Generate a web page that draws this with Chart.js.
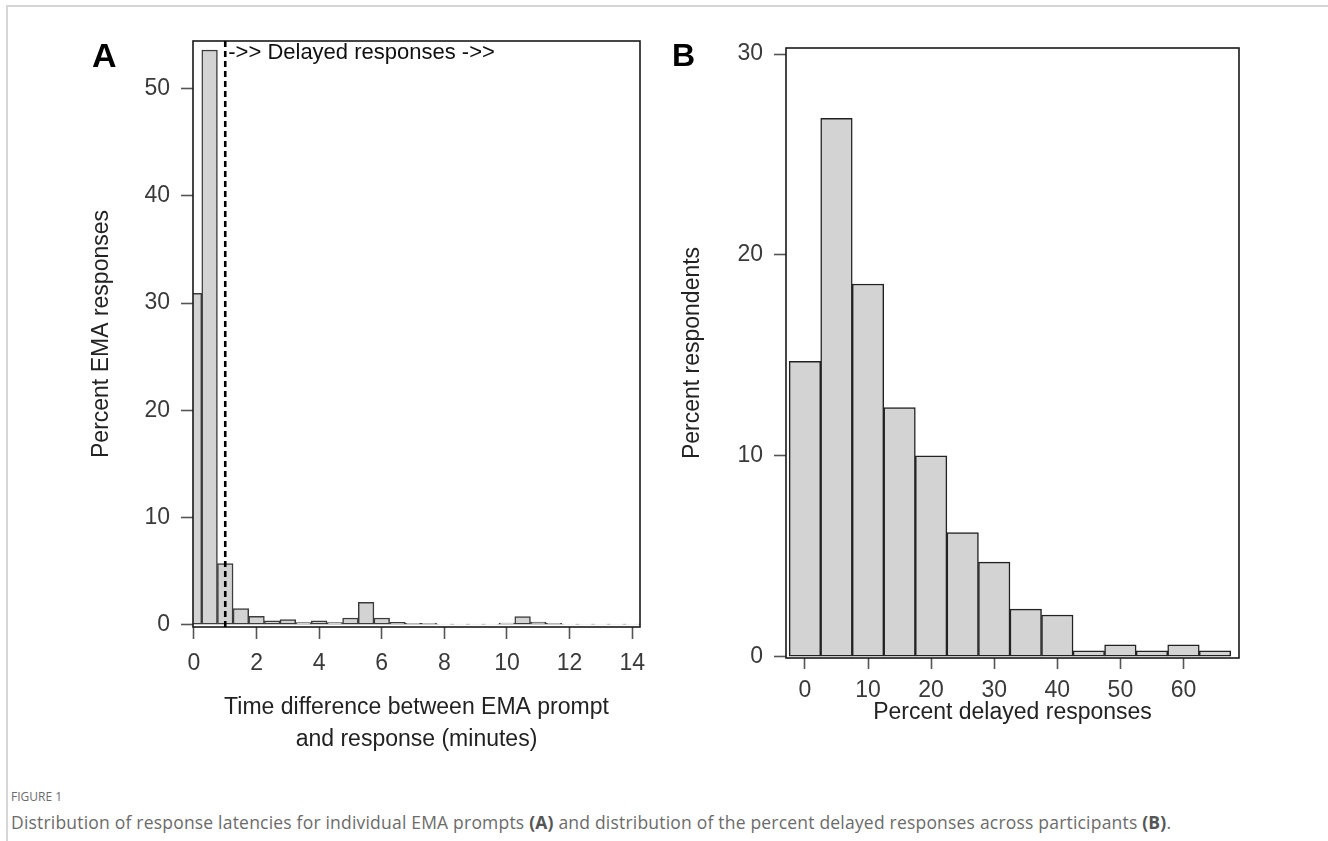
<!DOCTYPE html>
<html>
<head>
<meta charset="utf-8">
<script src="https://cdn.jsdelivr.net/npm/chart.js@4.4.1/dist/chart.umd.min.js"></script>
<style>
  html, body { margin: 0; padding: 0; background: #fff; width: 1328px; height: 841px; overflow: hidden; }
  #border { position: absolute; left: 6px; top: 5px; width: 1322px; height: 836px; border-top: 2px solid #d6d6d6; border-left: 2px solid #d6d6d6; box-sizing: border-box; }
  canvas { position: absolute; top: 0; }
  #cA { left: 0; }
  #cB { left: 664px; }
  .plabel { position: absolute; font-family: "Liberation Sans", Arial, sans-serif; font-weight: bold; color: #000; line-height: 1; }
  #fig { position: absolute; left: 11px; top: 788px; font-family: "Open Sans", sans-serif; font-size: 12px; color: #6b6b6b; }
  #cap { position: absolute; left: 11px; top: 811px; font-family: "Open Sans", sans-serif; font-size: 17.5px; letter-spacing: 0.2px; line-height: 22px; color: #6b6b6b; white-space: nowrap; }
  #cap b { color: #555; }
</style>
</head>
<body>
<div id="border"></div>
<canvas id="cA" width="664" height="760"></canvas>
<canvas id="cB" width="664" height="760"></canvas>
<div class="plabel" style="left:92px;top:38px;font-size:34px;">A</div>
<div class="plabel" style="left:672px;top:39px;font-size:32px;">B</div>
<div id="fig">FIGURE 1</div>
<div id="cap">Distribution of response latencies for individual EMA prompts <b>(A)</b> and distribution of the percent delayed responses across participants <b>(B)</b>.</div>
<script>
// ---------- Panel A: response latency (minutes) ----------
const binCentersA = [0, 0.5, 1, 1.5, 2, 2.5, 3, 3.5, 4, 4.5, 5, 5.5, 6, 6.5, 7, 7.5, 8, 8.5, 9, 9.5, 10, 10.5, 11, 11.5, 12, 12.5, 13, 13.5, 14];
const percentA = [30.9, 53.6, 5.7, 1.5, 0.78, 0.35, 0.47, 0.2, 0.35, 0.2, 0.62, 2.08, 0.62, 0.22, 0.12, 0.12, 0.06, 0.06, 0.06, 0.05, 0.15, 0.75, 0.25, 0.12, 0.06, 0.05, 0.05, 0.05, 0.05];
const xTicksA = [0, 2, 4, 6, 8, 10, 12, 14];
const yTicksA = [0, 10, 20, 30, 40, 50];
const delayCutoff = 1;
const annotationText = "->> Delayed responses ->>";
const xTitleA = ["Time difference between EMA prompt", "and response (minutes)"];
const yTitleA = "Percent EMA responses";

// ---------- Panel B: percent delayed responses per participant ----------
const binCentersB = [0, 5, 10, 15, 20, 25, 30, 35, 40, 45, 50, 55, 60, 65];
const percentB = [14.7, 26.8, 18.55, 12.4, 10.0, 6.17, 4.7, 2.36, 2.07, 0.29, 0.58, 0.29, 0.58, 0.29];
const xTicksB = [0, 10, 20, 30, 40, 50, 60];
const yTicksB = [0, 10, 20, 30];
const xTitleB = "Percent delayed responses";
const yTitleB = "Percent respondents";

const FONT = '"Liberation Sans", Arial, sans-serif';
const TICK_COLOR = '#3a3a3a';

const framePlugin = {
  id: 'frame',
  afterDatasetsDraw(chart) {
    const a = chart.chartArea, ctx = chart.ctx;
    ctx.save();
    ctx.strokeStyle = '#1a1a1a';
    ctx.lineWidth = 1.6;
    ctx.strokeRect(a.left, a.top, a.right - a.left, a.bottom - a.top);
    ctx.restore();
  }
};

const cutoffPlugin = {
  id: 'cutoff',
  afterDatasetsDraw(chart) {
    const a = chart.chartArea, ctx = chart.ctx;
    const x = chart.scales.x.getPixelForValue(delayCutoff);
    ctx.save();
    ctx.strokeStyle = '#000';
    ctx.lineWidth = 2.6;
    ctx.setLineDash([6, 4]);
    ctx.beginPath();
    ctx.moveTo(x, a.top);
    ctx.lineTo(x, a.bottom);
    ctx.stroke();
    ctx.setLineDash([]);
    ctx.fillStyle = '#111';
    ctx.font = '22px ' + FONT;
    ctx.textBaseline = 'top';
    ctx.textAlign = 'left';
    ctx.fillText(annotationText, x + 3, a.top + 1);
    ctx.restore();
  }
};

function fixedTicks(values) {
  return function (scale) { scale.ticks = values.map(v => ({ value: v })); };
}

function makeChart(id, centers, values, cfg) {
  return new Chart(document.getElementById(id), {
    type: 'bar',
    data: {
      datasets: [{
        data: centers.map((c, i) => ({ x: c, y: values[i] })),
        backgroundColor: '#d3d3d3',
        borderColor: cfg.barBorder,
        borderWidth: 1.5,
        borderSkipped: false,
        barPercentage: 1,
        categoryPercentage: 1,
        clip: 0
      }]
    },
    options: {
      responsive: false,
      animation: false,
      devicePixelRatio: 1,
      layout: { padding: cfg.padding },
      plugins: { legend: { display: false }, tooltip: { enabled: false } },
      scales: {
        x: {
          type: 'linear',
          offset: false,
          min: cfg.xMin, max: cfg.xMax,
          afterBuildTicks: fixedTicks(cfg.xTicks),
          afterFit(s) { s.height = cfg.xHeight; },
          border: { display: false },
          grid: { drawOnChartArea: false, drawTicks: true, tickLength: cfg.xTickLen, tickColor: '#555', tickWidth: 1.6, offset: false },
          ticks: { padding: cfg.xTickPad, color: TICK_COLOR, font: { family: FONT, size: 23 }, maxRotation: 0, autoSkip: false },
          title: { display: true, text: cfg.xTitle, color: '#222', font: { family: FONT, size: 23, lineHeight: cfg.xTitleLH }, padding: { top: 0, bottom: cfg.xTitlePad } }
        },
        y: {
          min: cfg.yMin, max: cfg.yMax,
          afterBuildTicks: fixedTicks(cfg.yTicks),
          afterFit(s) { s.width = cfg.yWidth; },
          border: { display: false },
          grid: { drawOnChartArea: false, drawTicks: true, tickLength: 12, tickColor: '#555', tickWidth: 1.6 },
          ticks: { padding: 11, color: TICK_COLOR, font: { family: FONT, size: 23 } },
          title: { display: true, text: cfg.yTitle, color: '#222', font: { family: FONT, size: 23 }, padding: { top: cfg.yTitlePad, bottom: 0 } }
        }
      }
    },
    plugins: cfg.plugins
  });
}

makeChart('cA', binCentersA, percentA, {
  barBorder: '#3c3c3c',
  padding: { left: 0, top: 41, right: 24, bottom: 0 },
  xMin: -0.03, xMax: 14.25, xTicks: xTicksA,
  yMin: -0.22, yMax: 54.44, yTicks: yTicksA,
  xHeight: 133, yWidth: 193,
  xTickLen: 12, xTickPad: 11,
  xTitle: xTitleA, xTitleLH: 1.39, xTitlePad: 4,
  yTitle: yTitleA, yTitlePad: 88,
  plugins: [framePlugin, cutoffPlugin]
});

makeChart('cB', binCentersB, percentB, {
  barBorder: '#222',
  padding: { left: 0, top: 48, right: 89, bottom: 0 },
  xMin: -3, xMax: 68.8, xTicks: xTicksB,
  yMin: -0.07, yMax: 30.3, yTicks: yTicksB,
  xHeight: 102, yWidth: 122,
  xTickLen: 11, xTickPad: 8,
  xTitle: xTitleB, xTitleLH: 1.2, xTitlePad: 34,
  yTitle: yTitleB, yTitlePad: 15,
  plugins: [framePlugin]
});
</script>
</body>
</html>
